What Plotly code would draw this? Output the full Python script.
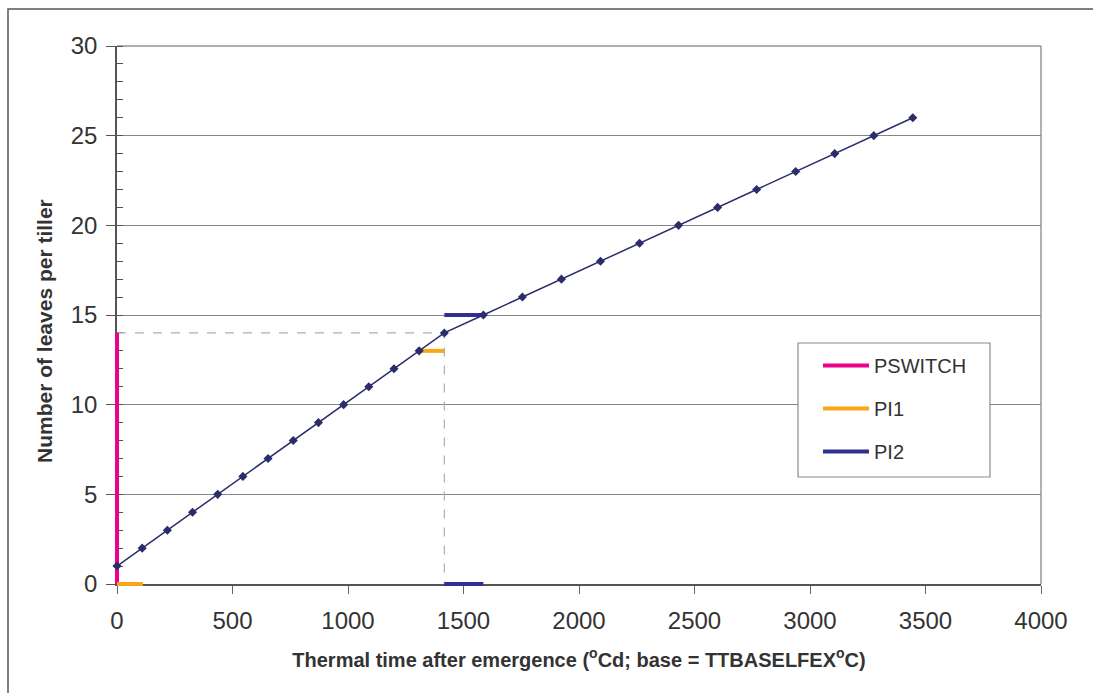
import plotly.graph_objects as go

# Data
tt = [0, 109, 218, 327, 436, 545, 654, 763, 872, 981, 1090, 1199, 1308, 1417,
      1586, 1755, 1924, 2093, 2262, 2431, 2600, 2769, 2938, 3107, 3276, 3445]
leaves = [1, 2, 3, 4, 5, 6, 7, 8, 9, 10, 11, 12, 13, 14,
          15, 16, 17, 18, 19, 20, 21, 22, 23, 24, 25, 26]

pswitch_x = [0, 0]
pswitch_y = [0, 14]
pi1_x = [0, 112, None, 1308, 1417]
pi1_y = [0, 0, None, 13, 13]
pi2_x = [1417, 1586, None, 1417, 1586]
pi2_y = [15, 15, None, 0, 0]
guide_x = [0, 1417, 1417]
guide_y = [14, 14, 0]

x_ticks = [0, 500, 1000, 1500, 2000, 2500, 3000, 3500, 4000]
y_ticks = [0, 5, 10, 15, 20, 25, 30]

FONT = "Liberation Sans, Arial, sans-serif"
NAVY = "#2B2D6B"

# layout geometry (pixels)
W, H = 1093, 693
L, R, T, B = 100, 52, 46, 95
PL, PR, PT, PB = 117, 1041, 46, 584          # main plot area
pw, ph = W - L - R, H - T - B
XMAX, YMAX = 4000, 30

def px(xp):
    return (xp - L) / pw

def py(yp):
    return (H - B - yp) / ph

x_per_px = XMAX / (PR - PL)
y_per_px = YMAX / (PB - PT)

fig = go.Figure()
# invisible trace so that the main (visible) axes are drawn
fig.add_trace(go.Scatter(x=tt, y=leaves, mode="none", showlegend=False,
                         hoverinfo="skip", xaxis="x", yaxis="y"))
common = dict(xaxis="x2", yaxis="y2")
fig.add_trace(go.Scatter(x=guide_x, y=guide_y, mode="lines",
                         line=dict(color="#B5ADAD", width=1.2, dash="dash"),
                         showlegend=False, hoverinfo="skip", **common))
fig.add_trace(go.Scatter(x=pswitch_x, y=pswitch_y, mode="lines", name="PSWITCH",
                         line=dict(color="#EC008C", width=4), legendgroup="a", **common))
fig.add_trace(go.Scatter(x=pi1_x, y=pi1_y, mode="lines", name="PI1",
                         line=dict(color="#F9A61A", width=4), legendgroup="b", **common))
fig.add_trace(go.Scatter(x=pi2_x, y=pi2_y, mode="lines", name="PI2",
                         line=dict(color="#2E3192", width=4), legendgroup="c", **common))
fig.add_trace(go.Scatter(x=tt, y=leaves, mode="lines+markers",
                         line=dict(color=NAVY, width=1.5),
                         marker=dict(symbol="diamond", size=7, color=NAVY),
                         showlegend=False, **common))

shapes = [
    dict(type="rect", xref="paper", yref="paper", x0=px(8), x1=px(1200),
         y0=py(800), y1=py(9), line=dict(color="#555555", width=1.5), layer="below"),
    dict(type="line", xref="paper", yref="paper", x0=px(PL), x1=1, y0=1, y1=1,
         line=dict(color="#9C9393", width=1.5), layer="below"),
    dict(type="line", xref="paper", yref="paper", x0=1, x1=1, y0=py(PB), y1=1,
         line=dict(color="#9C9393", width=1.5), layer="below"),
    dict(type="rect", xref="paper", yref="paper", x0=px(798), x1=px(990),
         y0=py(477), y1=py(343), fillcolor="white",
         line=dict(color="#8A8A8A", width=1.2), layer="above"),
]

annotations = [
    dict(text="<b>Number of leaves per tiller</b>", xref="paper", yref="paper",
         x=px(44), y=py(331), xanchor="center", yanchor="middle", textangle=-90,
         showarrow=False, font=dict(size=21, family=FONT, color="#333333")),
]

fig.update_layout(
    width=W, height=H,
    margin=dict(l=L, r=R, t=T, b=B),
    paper_bgcolor="white", plot_bgcolor="rgba(0,0,0,0)",
    font=dict(family=FONT, color="#333333"),
    shapes=shapes, annotations=annotations,
    legend=dict(x=px(818), y=py(346), xanchor="left", yanchor="top",
                bgcolor="rgba(0,0,0,0)", borderwidth=0,
                font=dict(size=20, family=FONT, color="#333333"),
                tracegroupgap=14, itemwidth=46, traceorder="grouped"),
    xaxis=dict(domain=[px(PL), 1], range=[0, XMAX], tickvals=x_ticks,
               ticktext=[str(v) for v in x_ticks],
               showgrid=False, zeroline=False, showline=True, linecolor="#555555",
               linewidth=1.5, ticks="outside", ticklen=8, tickcolor="#666666",
               ticklabelstandoff=6, fixedrange=True, layer="below traces",
               tickfont=dict(size=24, family=FONT, color="#333333"),
               title=dict(text="Thermal time after emergence (<sup>o</sup>Cd; base = TTBASELFEX<sup>o</sup>C)",
                          font=dict(size=20, family=FONT, color="#333333", weight="bold"),
                          standoff=20)),
    yaxis=dict(domain=[py(PB), 1], range=[0, YMAX], tickvals=y_ticks,
               ticktext=[str(v) for v in y_ticks],
               showgrid=True, gridcolor="#858585", gridwidth=1.2, zeroline=False,
               showline=True, linecolor="#555555", linewidth=1.5,
               ticks="outside", ticklen=9, tickcolor="#555555",
               ticklabelstandoff=4, fixedrange=True, layer="below traces",
               minor=dict(dtick=1, ticks="inside", ticklen=6, tickcolor="#555555", showgrid=False),
               tickfont=dict(size=24, family=FONT, color="#333333")),
    xaxis2=dict(domain=[0, 1], anchor="y2", visible=False, fixedrange=True,
                range=[-(PL - L) * x_per_px, XMAX]),
    yaxis2=dict(domain=[0, 1], anchor="x2", visible=False, fixedrange=True,
                range=[-(H - B - PB) * y_per_px, YMAX]),
)

fig.write_html("out.html")
